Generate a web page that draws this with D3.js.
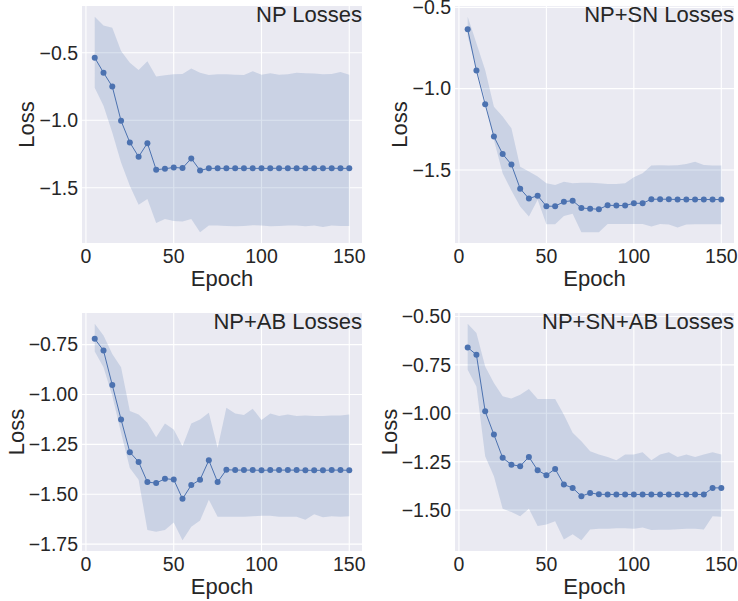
<!DOCTYPE html>
<html>
<head>
<meta charset="utf-8">
<script src="https://cdn.jsdelivr.net/npm/d3@7"></script>
<style>
  body { margin: 0; background: #fff; }
  svg { display: block; font-family: "Liberation Sans", Arial, sans-serif; }
</style>
</head>
<body>
<svg id="chart"></svg>
<script>
var width = 738, height = 601;

// epochs shared by all four runs
var epochs = [5,10,15,20,25,30,35,40,45,50,55,60,65,70,75,80,85,90,95,100,105,110,115,120,125,130,135,140,145,150];
var xTicks = [0, 50, 100, 150];

// NP
var npMean = [-0.537,-0.648,-0.751,-1.005,-1.165,-1.271,-1.170,-1.367,-1.360,-1.350,-1.355,-1.283,-1.372,-1.357,-1.357,-1.357,-1.357,-1.357,-1.357,-1.357,-1.357,-1.356,-1.357,-1.357,-1.357,-1.357,-1.357,-1.356,-1.357,-1.357];
var npUpper = [-0.234,-0.298,-0.315,-0.488,-0.574,-0.628,-0.564,-0.677,-0.667,-0.660,-0.658,-0.618,-0.648,-0.665,-0.660,-0.660,-0.663,-0.665,-0.638,-0.663,-0.653,-0.663,-0.660,-0.648,-0.653,-0.655,-0.660,-0.658,-0.643,-0.663];
var npLower = [-0.759,-0.894,-1.091,-1.313,-1.485,-1.626,-1.584,-1.761,-1.732,-1.746,-1.751,-1.732,-1.830,-1.781,-1.781,-1.784,-1.786,-1.784,-1.778,-1.781,-1.786,-1.784,-1.781,-1.781,-1.786,-1.781,-1.791,-1.781,-1.784,-1.784];
var npTicks = [-0.5, -1.0, -1.5];

// NP+SN
var snMean = [-0.635,-0.889,-1.096,-1.295,-1.402,-1.467,-1.615,-1.676,-1.658,-1.723,-1.723,-1.695,-1.689,-1.734,-1.738,-1.742,-1.717,-1.719,-1.719,-1.705,-1.705,-1.680,-1.680,-1.680,-1.682,-1.682,-1.682,-1.682,-1.682,-1.682];
var snUpper = [-0.558,-0.721,-0.885,-1.111,-1.172,-1.244,-1.480,-1.510,-1.541,-1.582,-1.592,-1.572,-1.582,-1.578,-1.578,-1.582,-1.586,-1.586,-1.582,-1.545,-1.520,-1.473,-1.471,-1.473,-1.471,-1.463,-1.449,-1.469,-1.473,-1.473];
var snLower = [-0.680,-0.875,-1.070,-1.316,-1.520,-1.627,-1.725,-1.787,-1.684,-1.834,-1.834,-1.783,-1.770,-1.883,-1.883,-1.883,-1.832,-1.832,-1.832,-1.832,-1.832,-1.848,-1.832,-1.836,-1.854,-1.836,-1.834,-1.834,-1.834,-1.834];
var snTicks = [-0.5, -1.0, -1.5];

// NP+AB
var abMean = [-0.721,-0.780,-0.953,-1.125,-1.289,-1.338,-1.439,-1.444,-1.422,-1.426,-1.523,-1.454,-1.427,-1.330,-1.439,-1.377,-1.379,-1.379,-1.379,-1.380,-1.379,-1.379,-1.379,-1.379,-1.380,-1.380,-1.380,-1.379,-1.379,-1.380];
var abUpper = [-0.646,-0.705,-0.797,-0.864,-1.083,-1.100,-1.142,-1.214,-1.145,-1.175,-1.259,-1.145,-1.125,-1.091,-1.268,-1.066,-1.095,-1.103,-1.071,-1.128,-1.095,-1.108,-1.100,-1.108,-1.105,-1.108,-1.108,-1.105,-1.105,-1.100];
var abLower = [-0.785,-0.864,-1.007,-1.192,-1.368,-1.427,-1.679,-1.688,-1.679,-1.642,-1.730,-1.663,-1.632,-1.528,-1.612,-1.612,-1.612,-1.612,-1.610,-1.607,-1.607,-1.612,-1.612,-1.612,-1.628,-1.600,-1.615,-1.610,-1.612,-1.610];
var abTicks = [-0.75, -1.00, -1.25, -1.50, -1.75];

// NP+SN+AB
var snabMean = [-0.660,-0.698,-0.990,-1.110,-1.230,-1.265,-1.273,-1.225,-1.294,-1.320,-1.287,-1.368,-1.385,-1.428,-1.411,-1.418,-1.419,-1.419,-1.419,-1.419,-1.419,-1.419,-1.419,-1.419,-1.419,-1.419,-1.419,-1.419,-1.385,-1.385];
var snabUpper = [-0.538,-0.586,-0.758,-0.844,-0.912,-0.924,-0.904,-0.875,-0.926,-0.926,-0.926,-1.007,-1.101,-1.144,-1.196,-1.213,-1.225,-1.242,-1.213,-1.213,-1.201,-1.242,-1.213,-1.201,-1.225,-1.213,-1.225,-1.213,-1.201,-1.213];
var snabLower = [-0.775,-0.861,-1.222,-1.325,-1.493,-1.510,-1.531,-1.493,-1.582,-1.574,-1.557,-1.651,-1.625,-1.655,-1.600,-1.596,-1.596,-1.594,-1.594,-1.596,-1.590,-1.603,-1.601,-1.601,-1.598,-1.596,-1.596,-1.600,-1.531,-1.534];
var snabTicks = [-0.50, -0.75, -1.00, -1.25, -1.50];

var titles = ["NP Losses", "NP+SN Losses", "NP+AB Losses", "NP+SN+AB Losses"];

var panels = [
    {title: titles[0], mean: npMean, upper: npUpper, lower: npLower, ticks: npTicks, fmt: ".1f", x: 82, y: 6, w: 280, h: 237},
    {title: titles[1], mean: snMean, upper: snUpper, lower: snLower, ticks: snTicks, fmt: ".1f", x: 455, y: 6, w: 279, h: 237},
    {title: titles[2], mean: abMean, upper: abUpper, lower: abLower, ticks: abTicks, fmt: ".2f", x: 82, y: 313, w: 280, h: 238},
    {title: titles[3], mean: snabMean, upper: snabUpper, lower: snabLower, ticks: snabTicks, fmt: ".2f", x: 455, y: 313, w: 279, h: 238}
];

var blue = "#4C72B0", textColor = "#262626";

var svg = d3.select("#chart")
    .attr("width", width)
    .attr("height", height);

panels.forEach(function(p) {
    var g = svg.append("g").attr("transform", `translate(${p.x},${p.y})`);

    // matplotlib-style 5% margins
    var xExt = d3.extent(epochs), xPad = (xExt[1] - xExt[0]) * 0.05;
    var yMin = d3.min(p.lower), yMax = d3.max(p.upper), yPad = (yMax - yMin) * 0.05;
    var x = d3.scaleLinear().domain([xExt[0] - xPad, xExt[1] + xPad]).range([0, p.w]);
    var y = d3.scaleLinear().domain([yMin - yPad, yMax + yPad]).range([p.h, 0]);

    g.append("rect")
        .attr("width", p.w)
        .attr("height", p.h)
        .attr("fill", "#EAEAF2");

    // grid
    g.selectAll(".xgrid").data(xTicks).join("line")
        .attr("x1", d => x(d)).attr("x2", d => x(d))
        .attr("y1", 0).attr("y2", p.h)
        .attr("stroke", "#fff").attr("stroke-width", 1.1);
    g.selectAll(".ygrid").data(p.ticks).join("line")
        .attr("x1", 0).attr("x2", p.w)
        .attr("y1", d => y(d)).attr("y2", d => y(d))
        .attr("stroke", "#fff").attr("stroke-width", 1.1);

    var rows = epochs.map((e, i) => ({e: e, m: p.mean[i], lo: p.lower[i], hi: p.upper[i]}));

    var area = d3.area()
        .x(d => x(d.e))
        .y0(d => y(d.lo))
        .y1(d => y(d.hi));
    g.append("path")
        .datum(rows)
        .attr("d", area)
        .attr("fill", blue)
        .attr("fill-opacity", 0.2);

    var line = d3.line().x(d => x(d.e)).y(d => y(d.m));
    g.append("path")
        .datum(rows)
        .attr("d", line)
        .attr("fill", "none")
        .attr("stroke", blue)
        .attr("stroke-width", 1);

    g.selectAll(".dot").data(rows).join("circle")
        .attr("cx", d => x(d.e))
        .attr("cy", d => y(d.m))
        .attr("r", 3)
        .attr("fill", blue);

    // tick labels
    g.selectAll(".xtick").data(xTicks).join("text")
        .attr("x", d => x(d))
        .attr("y", p.h + 20)
        .attr("text-anchor", "middle")
        .style("font-size", "19.5px")
        .style("fill", textColor)
        .text(d => d);

    var fmt = d3.format(p.fmt);
    var yLabels = g.selectAll(".ytick").data(p.ticks).join("text")
        .attr("x", -4)
        .attr("y", d => y(d))
        .attr("dy", "0.35em")
        .attr("text-anchor", "end")
        .style("font-size", "19.5px")
        .style("fill", textColor)
        .text(d => fmt(d));

    var maxW = 0;
    yLabels.each(function() { maxW = Math.max(maxW, this.getBBox().width); });

    g.append("text")
        .attr("transform", `translate(${-4 - maxW - 5},${p.h / 2}) rotate(-90)`)
        .attr("text-anchor", "middle")
        .style("font-size", "22px")
        .style("fill", textColor)
        .text("Loss");

    g.append("text")
        .attr("x", p.w / 2)
        .attr("y", p.h + 43)
        .attr("text-anchor", "middle")
        .style("font-size", "22px")
        .style("fill", textColor)
        .text("Epoch");

    g.append("text")
        .attr("x", p.w)
        .attr("y", 16)
        .attr("text-anchor", "end")
        .style("font-size", "22px")
        .style("fill", textColor)
        .text(p.title);
});
</script>
</body>
</html>
